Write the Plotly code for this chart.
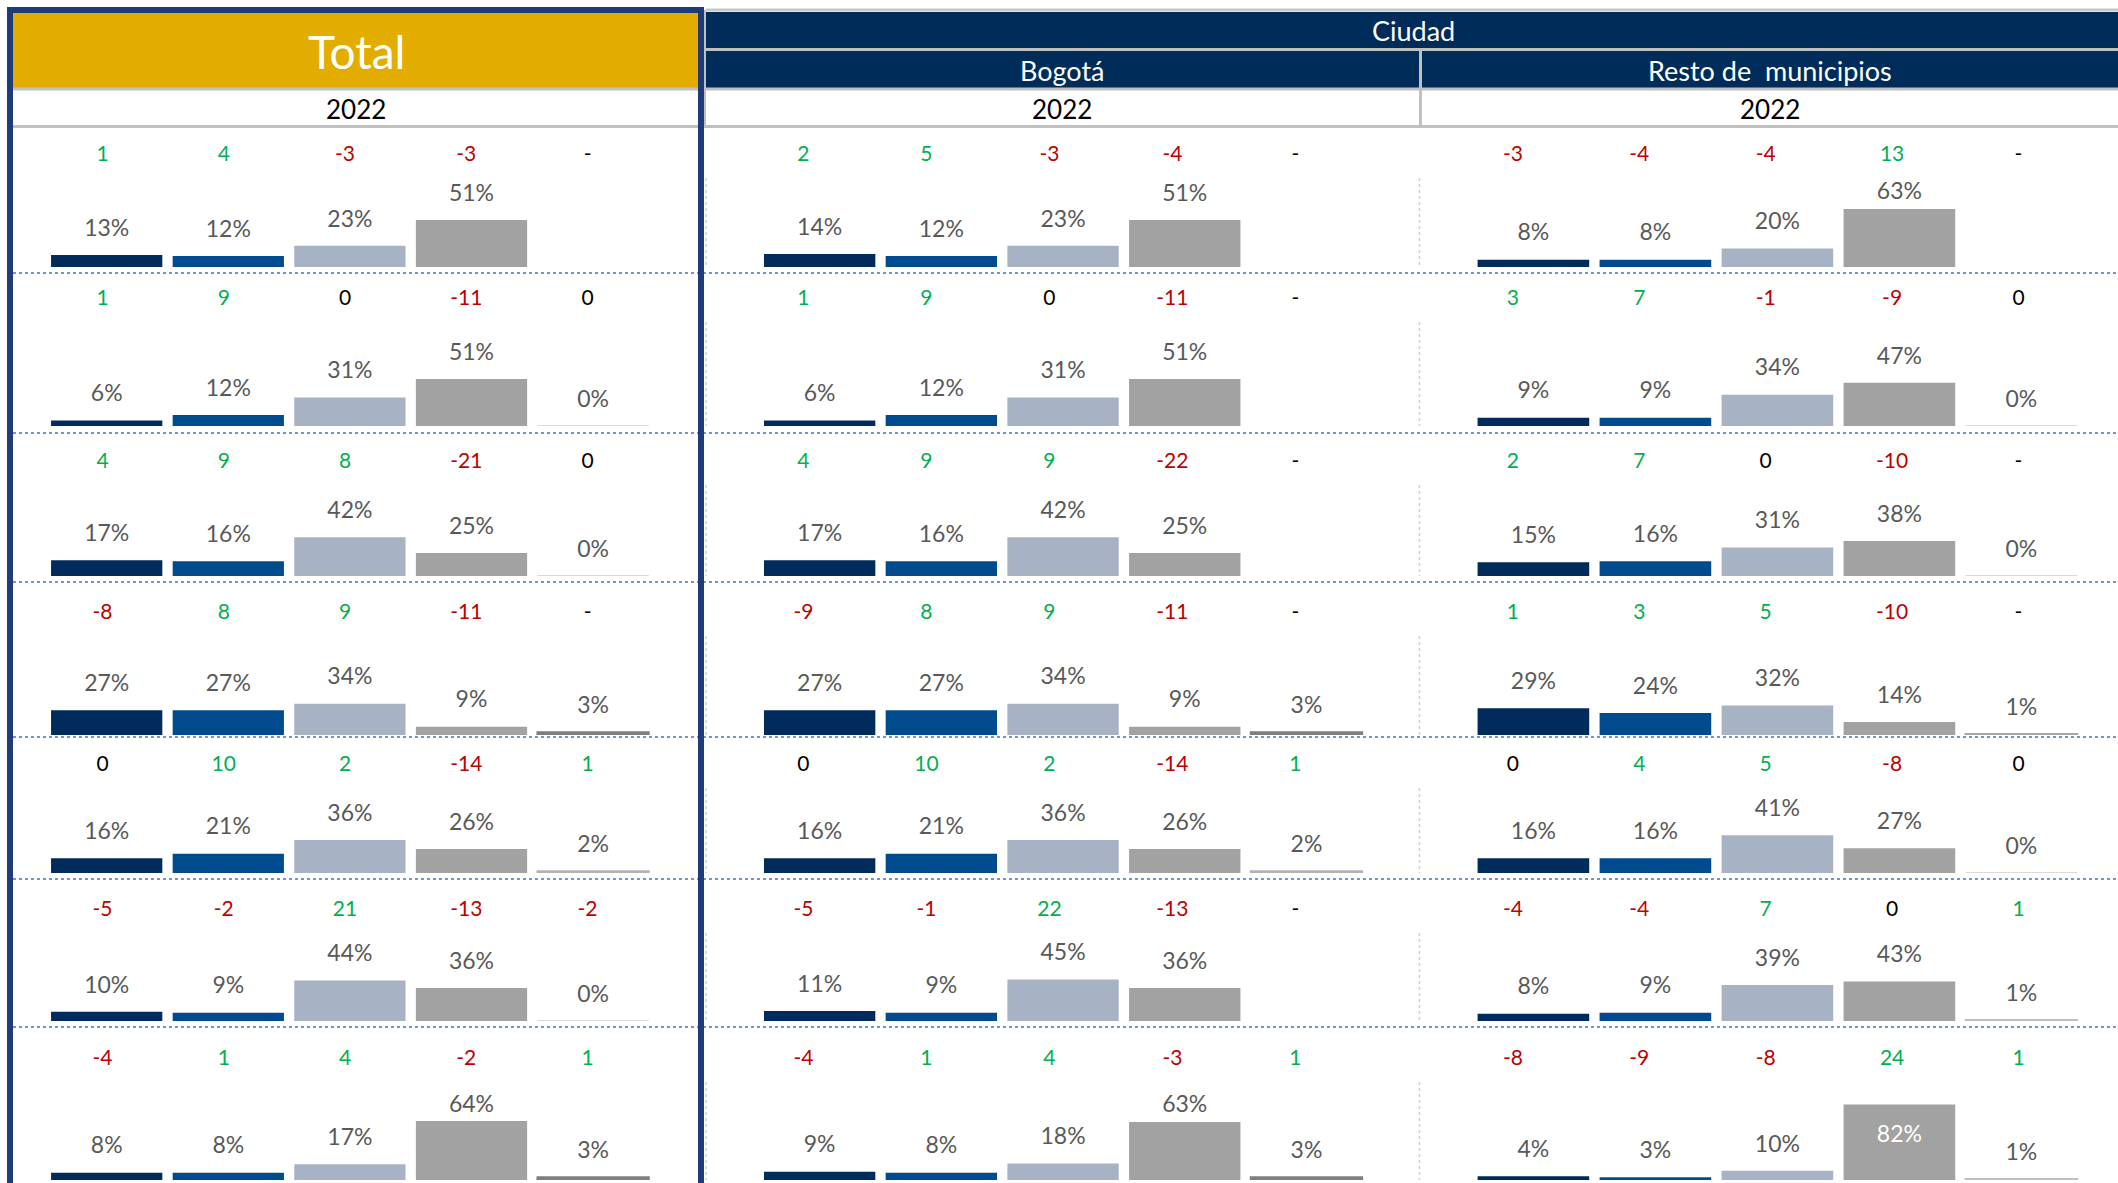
import plotly.graph_objects as go

W, H = 2118, 1183

# ---------------- data ----------------
categories = ["C1", "C2", "C3", "C4", "C5"]
panel_names = ["Total", "Bogotá", "Resto de\u00a0 municipios"]
year_label = "2022"
group_label = "Ciudad"

# shares (%) per row and category (None = no bar)
total_share = [
    [13, 12, 23, 51, None],
    [6, 12, 31, 51, 0],
    [17, 16, 42, 25, 0],
    [27, 27, 34, 9, 3],
    [16, 21, 36, 26, 2],
    [10, 9, 44, 36, 0],
    [8, 8, 17, 64, 3],
]
total_change = [
    [1, 4, -3, -3, None],
    [1, 9, 0, -11, 0],
    [4, 9, 8, -21, 0],
    [-8, 8, 9, -11, None],
    [0, 10, 2, -14, 1],
    [-5, -2, 21, -13, -2],
    [-4, 1, 4, -2, 1],
]
bogota_share = [
    [14, 12, 23, 51, None],
    [6, 12, 31, 51, None],
    [17, 16, 42, 25, None],
    [27, 27, 34, 9, 3],
    [16, 21, 36, 26, 2],
    [11, 9, 45, 36, None],
    [9, 8, 18, 63, 3],
]
bogota_change = [
    [2, 5, -3, -4, None],
    [1, 9, 0, -11, None],
    [4, 9, 9, -22, None],
    [-9, 8, 9, -11, None],
    [0, 10, 2, -14, 1],
    [-5, -1, 22, -13, None],
    [-4, 1, 4, -3, 1],
]
resto_share = [
    [8, 8, 20, 63, None],
    [9, 9, 34, 47, 0],
    [15, 16, 31, 38, 0],
    [29, 24, 32, 14, 1],
    [16, 16, 41, 27, 0],
    [8, 9, 39, 43, 1],
    [4, 3, 10, 82, 1],
]
resto_change = [
    [-3, -4, -4, 13, None],
    [3, 7, -1, -9, 0],
    [2, 7, 0, -10, None],
    [1, 3, 5, -10, None],
    [0, 4, 5, -8, 0],
    [-4, -4, 7, 0, 1],
    [-8, -9, -8, 24, 1],
]

shares = [total_share, bogota_share, resto_share]
changes = [total_change, bogota_change, resto_change]

# ---------------- styles ----------------
FONT = "Lato, 'Open Sans', Arial, sans-serif"
bar_colors = ["#002B5A", "#004B8D", "#A7B3C4", "#A2A2A2"]
c5_colors = [
    ["#D9D9D9", "#D9D9D9", "#D9D9D9", "#7F7F7F", "#B3B3B3", "#D9D9D9", "#7F7F7F"],
    ["#D9D9D9", "#D9D9D9", "#D9D9D9", "#7F7F7F", "#B3B3B3", "#D9D9D9", "#7F7F7F"],
    ["#D9D9D9", "#D9D9D9", "#D9D9D9", "#A6A6A6", "#D9D9D9", "#BFBFBF", "#BFBFBF"],
]
GREEN, RED, BLACK = "#00B050", "#C00000", "#000000"
LABEL_GREY = "#595959"
NAVY_HDR = "#002C5A"
GOLD = "#E3AD00"
BORDER = "#1F3C78"
LINE_GREY = "#C0C0C0"

PX_PER_UNIT = 0.92          # pixels per percentage point
LABEL_GAP_PX = 25
LABEL_CAP = 80              # max label centre (in % units) inside a row

# layout geometry (pixels)
baselines = [267, 426, 576, 735, 873, 1021, 1180]
num_rows_y = [156, 300, 463, 614, 766, 911, 1060]
bar_domains = [(45.9, 653.9), (758.8, 1367.3), (1472.4, 2082.4)]
num_domains = [(41.9, 648.2), (741.9, 1356.9), (1449.7, 2081.7)]


def fx(p):
    return p / W


def fy(p):
    return 1 - p / H


def chg_color(v):
    if v is None or v == 0:
        return BLACK
    return GREEN if v > 0 else RED


fig = go.Figure()

row_top = []
for r in range(7):
    row_top.append((baselines[r] - num_rows_y[r]) / PX_PER_UNIT)

for p in range(3):
    xa = "x" if p == 0 else f"x{p + 1}"
    xn = f"x{p + 4}"
    for r in range(7):
        ya = "y" if r == 0 else f"y{r + 1}"
        vals = shares[p][r]
        xs, ys, cols, lws = [], [], [], []
        for i, v in enumerate(vals):
            if v is None:
                continue
            xs.append(categories[i])
            ys.append(v)
            c = bar_colors[i] if i < 4 else c5_colors[p][r]
            cols.append(c)
            lws.append(2 if i == 4 else 0)
        fig.add_trace(go.Bar(
            x=xs, y=ys, xaxis=xa, yaxis=ya,
            marker=dict(color=cols, line=dict(color=cols, width=lws)),
            hoverinfo="skip", showlegend=False,
        ))
        # percentage labels
        ly, lt, lc = [], [], []
        for v in ys:
            above = v + LABEL_GAP_PX / PX_PER_UNIT
            if v + 10 > 82:
                ly.append(v - 34)
                lc.append("#FFFFFF")
            else:
                ly.append(min(above, LABEL_CAP))
                lc.append(LABEL_GREY)
            lt.append(f"{v:.0f}%")
        fig.add_trace(go.Scatter(
            x=xs, y=ly, xaxis=xa, yaxis=ya, mode="text", text=lt,
            textposition="middle center",
            textfont=dict(family=FONT, size=23, color=lc),
            cliponaxis=False, hoverinfo="skip", showlegend=False,
        ))
        # change numbers
        ch = changes[p][r]
        fig.add_trace(go.Scatter(
            x=categories, y=[row_top[r]] * len(categories), xaxis=xn, yaxis=ya,
            mode="text",
            text=["-" if v is None else str(v) for v in ch],
            textposition="middle center",
            textfont=dict(family=FONT, size=21, color=[chg_color(v) for v in ch]),
            cliponaxis=False, hoverinfo="skip", showlegend=False,
        ))

layout = dict(
    width=W, height=H, margin=dict(l=0, r=0, t=0, b=0, pad=0),
    paper_bgcolor="white", plot_bgcolor="rgba(0,0,0,0)",
    showlegend=False, bargap=0.085,
)
for p in range(3):
    name = "xaxis" if p == 0 else f"xaxis{p + 1}"
    d = bar_domains[p]
    layout[name] = dict(domain=[fx(d[0]), fx(d[1])], range=[-0.5, 4.5],
                        type="category", categoryorder="array",
                        categoryarray=categories, visible=False, fixedrange=True)
    d = num_domains[p]
    layout[f"xaxis{p + 4}"] = dict(domain=[fx(d[0]), fx(d[1])], range=[-0.5, 4.5],
                                   type="category", categoryorder="array",
                                   categoryarray=categories, visible=False,
                                   fixedrange=True)
for r in range(7):
    name = "yaxis" if r == 0 else f"yaxis{r + 1}"
    layout[name] = dict(domain=[fy(baselines[r]), fy(num_rows_y[r])],
                        range=[0, row_top[r]], visible=False, fixedrange=True)

shapes = []


def rect(x0, y0, x1, y1, fill, layer="below", line_color=None, lw=0):
    shapes.append(dict(type="rect", xref="paper", yref="paper",
                       x0=fx(x0), x1=fx(x1), y0=fy(y0), y1=fy(y1),
                       fillcolor=fill, layer=layer,
                       line=dict(width=lw, color=line_color or fill)))


def line(x0, y0, x1, y1, color, width, dash="solid", layer="below"):
    shapes.append(dict(type="line", xref="paper", yref="paper",
                       x0=fx(x0), x1=fx(x1), y0=fy(y0), y1=fy(y1), layer=layer,
                       line=dict(color=color, width=width, dash=dash)))


# header blocks
rect(13, 13, 698, 88, GOLD)
rect(706, 12, 2118, 48, NAVY_HDR)
rect(706, 51, 1419, 88, NAVY_HDR)
rect(1422, 51, 2118, 88, NAVY_HDR)
line(706, 10, 2118, 10, "#C8C8C8", 3)
line(706, 49.5, 2118, 49.5, LINE_GREY, 3)
line(13, 89, 2118, 89, LINE_GREY, 3)
line(13, 126.5, 2118, 126.5, LINE_GREY, 3)
line(705, 10, 705, 127, LINE_GREY, 2)
line(1420.5, 49, 1420.5, 127, LINE_GREY, 3)

# row separators
for yy in [273, 433, 582, 737, 879, 1027]:
    line(13, yy, 2118, yy, "#4472C4", 1.5, "dot")
# chart-area edges (faint dotted verticals)
for r in range(7):
    for xx in [706, 1419.5]:
        line(xx, num_rows_y[r] + 22, xx, baselines[r], "#D0D0D0", 1.5, "dot")

# Total frame
shapes.append(dict(type="rect", xref="paper", yref="paper",
                   x0=fx(10), x1=fx(701), y0=fy(1200), y1=fy(10),
                   fillcolor="rgba(0,0,0,0)", layer="above",
                   line=dict(color=BORDER, width=6)))
layout["shapes"] = shapes


def ann(text, x, y, size, color):
    return dict(text=text, x=fx(x), y=fy(y), xref="paper", yref="paper",
                showarrow=False, xanchor="center", yanchor="middle",
                font=dict(family=FONT, size=size, color=color))


layout["annotations"] = [
    ann(panel_names[0], 356, 52, 46, "white"),
    ann(year_label, 356, 109, 26, "black"),
    ann(group_label, 1413, 31, 27, "white"),
    ann(panel_names[1], 1062, 71, 27, "white"),
    ann(panel_names[2], 1770, 71, 27, "white"),
    ann(year_label, 1062, 109, 26, "black"),
    ann(year_label, 1770, 109, 26, "black"),
]

fig.update_layout(**layout)
fig.write_html(
    "out.html",
    config={"displayModeBar": False},
    post_script="document.body.style.margin='0';document.body.style.overflow='hidden';",
)
